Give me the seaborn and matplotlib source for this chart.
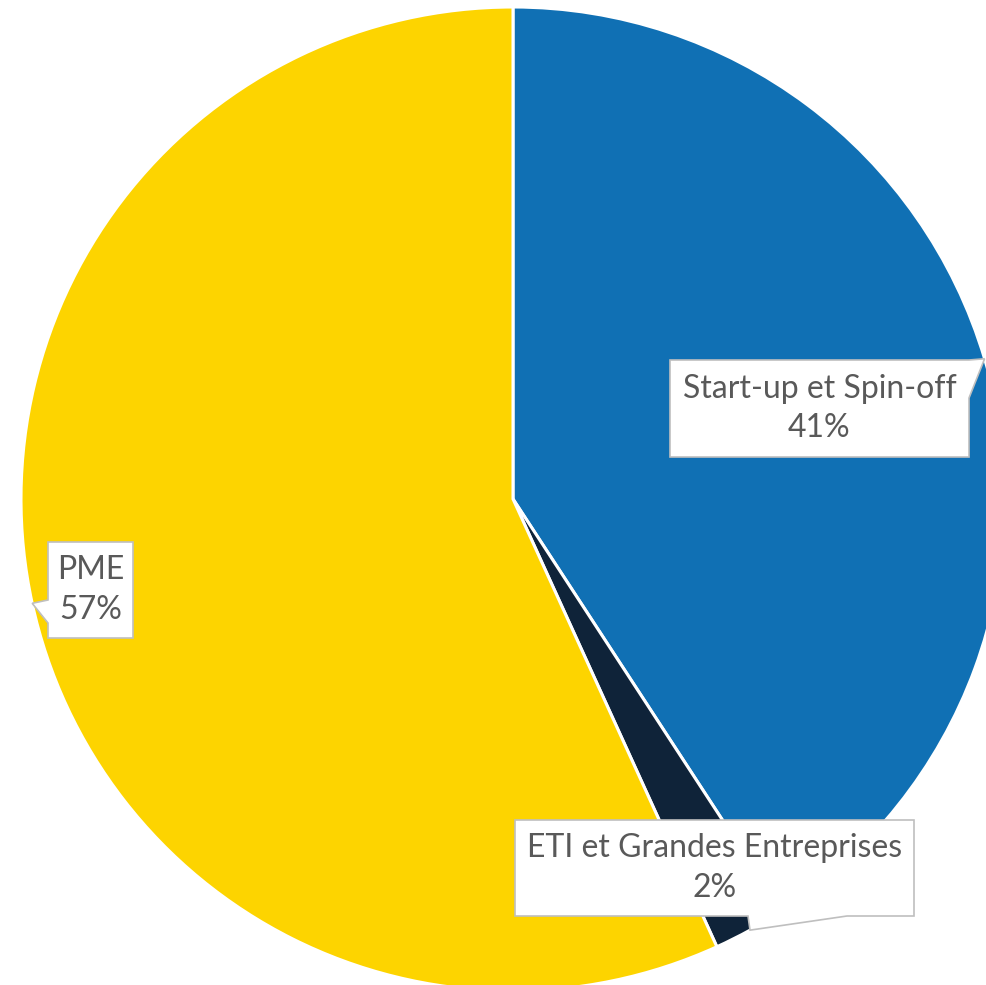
import numpy as np
import matplotlib.pyplot as plt
import seaborn as sns
from matplotlib.patches import Polygon

sns.set_theme(style="white")
plt.rcParams["font.family"] = ["Lato", "DejaVu Sans"]

# data
categories = ["Start-up et Spin-off", "ETI et Grandes Entreprises", "PME"]
shares = [40.8, 2.4, 56.8]
colors = ["#1070B4", "#0F2339", "#FDD400"]

W, H = 987, 985
fig = plt.figure(figsize=(W / 100, H / 100), dpi=100)
ax = fig.add_axes([0, 0, 1, 1])

cx, cy, r = 513, H - 499, 492
wedges, _ = ax.pie(
    shares,
    colors=colors,
    startangle=90,
    counterclock=False,
    center=(cx, cy),
    radius=r,
    wedgeprops=dict(edgecolor="white", linewidth=2.2),
    frame=True,
)
ax.set_xlim(0, W)
ax.set_ylim(0, H)
ax.set_aspect("equal")
ax.axis("off")

# callout box layout (pixel coords, top-left origin): box, pointer base side
boxes = {
    "Start-up et Spin-off": dict(box=(670, 360, 969, 457), side="right", base=(360, 398)),
    "PME": dict(box=(48, 542, 133, 638), side="left", base=(600, 623)),
    "ETI et Grandes Entreprises": dict(box=(515, 820, 914, 916), side="bottom", base=(748, 847)),
}


def fy(y):
    return H - y


for w, name, val in zip(wedges, categories, shares):
    mid = np.deg2rad((w.theta1 + w.theta2) / 2)
    tip = (cx + r * np.cos(mid), cy + r * np.sin(mid))
    b = boxes[name]
    x0, y0, x1, y1 = b["box"]
    a0, a1 = b["base"]
    if b["side"] == "right":
        pts = [(x0, y0), (x1, y0), (x1, a0), None, (x1, a1), (x1, y1), (x0, y1)]
    elif b["side"] == "left":
        pts = [(x0, y0), (x1, y0), (x1, y1), (x0, y1), (x0, a1), None, (x0, a0)]
    else:
        pts = [(x0, y0), (x1, y0), (x1, y1), (a1, y1), None, (a0, y1), (x0, y1)]
    verts = [tip if p is None else (p[0], fy(p[1])) for p in pts]
    ax.add_patch(Polygon(verts, closed=True, facecolor="white",
                         edgecolor="#BFBFBF", linewidth=1.2, zorder=5))
    ax.text((x0 + x1) / 2, fy((y0 + y1) / 2), f"{name}\n{val:.0f}%",
            ha="center", va="center", fontsize=23, color="#595959",
            linespacing=1.4, zorder=6)

fig.savefig("out.png", dpi=100)
